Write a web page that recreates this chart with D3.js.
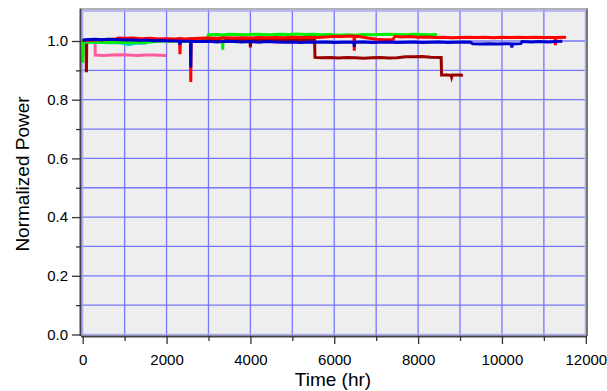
<!DOCTYPE html>
<html>
<head>
<meta charset="utf-8">
<script src="https://cdn.jsdelivr.net/npm/d3@7"></script>
<style>
  html, body { margin: 0; padding: 0; background: #fff; }
  svg { display: block; font-family: "Liberation Sans", Arial, sans-serif; }
</style>
</head>
<body>
<svg id="chart" width="607" height="391"></svg>
<script>
// Tick labels
const xTickLabels = [0, 2000, 4000, 6000, 8000, 10000, 12000];
const xMinorTicks = [1000, 3000, 5000, 7000, 9000, 11000];
const yTickLabels = [0, 0.2, 0.4, 0.6, 0.8, 1.0];
const yMinorTicks = [0.1, 0.3, 0.5, 0.7, 0.9];

// Normalized power vs. time (hr) for each module
const darkred = [[0,1.000],[80,1.001],[86,0.899],[90,0.899],[96,1.002],[300,1.003],[600,1.004],[900,1.003],[1200,1.004],[1500,1.003],[1800,1.005],[2100,1.004],[2400,1.005],[2700,1.004],[3000,1.005],[3300,1.004],[3600,1.005],[3990,1.004],[4000,0.978],[4012,1.004],[4300,1.005],[4600,1.004],[4900,1.005],[5200,1.004],[5530,1.005],[5540,0.944],[5700,0.943],[5900,0.944],[6100,0.942],[6300,0.944],[6500,0.943],[6700,0.941],[6900,0.943],[7100,0.944],[7300,0.942],[7500,0.943],[7700,0.946],[7900,0.946],[8100,0.947],[8300,0.945],[8550,0.944],[8560,0.884],[8700,0.884],[8790,0.883],[8800,0.877],[8815,0.884],[8950,0.884],[9070,0.883]];
const pink = [[0,1.000],[250,1.001],[295,1.000],[300,0.952],[500,0.951],[700,0.952],[900,0.953],[1100,0.952],[1300,0.951],[1500,0.952],[1700,0.952],[1990,0.951]];
const cyan = [[0,0.997],[150,0.996],[300,0.995],[450,0.996],[600,0.994],[750,0.995],[900,0.993],[1000,0.991],[1080,0.987],[1150,0.989],[1250,0.992],[1400,0.993],[1520,0.992]];
const magenta = [[1100,1.003],[1300,1.004],[1500,1.003],[1700,1.004],[2000,1.003]];
const green = [[0,0.926],[12,0.998],[200,0.997],[500,0.996],[800,0.997],[1100,0.995],[1400,0.996],[1560,0.996],[1800,0.999],[2200,1.000],[2600,1.001],[2950,1.002],[3000,1.021],[3200,1.022],[3330,1.021],[3340,0.970],[3352,1.021],[3500,1.023],[3700,1.022],[3900,1.021],[4100,1.023],[4300,1.022],[4500,1.021],[4700,1.023],[4900,1.022],[5100,1.024],[5300,1.022],[5500,1.023],[5700,1.021],[5900,1.022],[6100,1.020],[6300,1.021],[6500,1.020],[6700,1.022],[6900,1.021],[7100,1.022],[7300,1.023],[7500,1.022],[7700,1.021],[7900,1.023],[8100,1.022],[8300,1.021],[8450,1.022]];
const red = [[0,1.002],[300,1.003],[600,1.005],[800,1.007],[850,1.010],[1000,1.009],[1200,1.010],[1400,1.008],[1600,1.009],[1800,1.007],[2000,1.008],[2200,1.007],[2310,1.008],[2320,0.955],[2330,1.008],[2450,1.007],[2570,1.008],[2578,0.860],[2586,1.008],[2800,1.009],[3000,1.010],[3200,1.009],[3400,1.011],[3600,1.010],[3800,1.011],[4000,1.010],[4200,1.012],[4400,1.011],[4600,1.012],[4800,1.011],[5000,1.013],[5200,1.012],[5400,1.013],[5600,1.012],[5800,1.014],[6000,1.016],[6200,1.015],[6400,1.017],[6470,1.016],[6478,0.967],[6488,1.016],[6600,1.015],[6800,1.010],[7000,1.006],[7200,1.004],[7400,1.005],[7450,1.016],[7600,1.014],[7800,1.015],[8000,1.013],[8200,1.014],[8400,1.012],[8600,1.013],[8800,1.011],[9000,1.012],[9200,1.013],[9400,1.012],[9600,1.013],[9800,1.011],[10000,1.013],[10200,1.012],[10400,1.013],[10600,1.012],[10800,1.013],[11000,1.012],[11265,1.012],[11275,0.986],[11285,1.012],[11530,1.013]];
const blue = [[0,1.000],[40,1.004],[150,1.005],[300,1.006],[450,1.004],[600,1.006],[750,1.005],[900,1.004],[1050,1.003],[1200,1.004],[1350,1.002],[1500,1.003],[1700,1.001],[1900,1.002],[2100,1.000],[2310,1.000],[2318,0.987],[2326,1.000],[2450,0.999],[2570,0.999],[2578,0.910],[2586,0.999],[2800,0.998],[3000,0.999],[3200,0.997],[3400,0.999],[3600,0.998],[3800,0.997],[4000,0.998],[4200,0.996],[4400,0.998],[4600,0.997],[4800,0.996],[5000,0.997],[5200,0.995],[5400,0.997],[5600,0.996],[5800,0.997],[6000,0.995],[6200,0.996],[6470,0.996],[6478,0.980],[6488,0.996],[6700,0.997],[6900,0.995],[7100,0.996],[7300,0.997],[7500,0.995],[7700,0.996],[7900,0.997],[8100,0.995],[8300,0.996],[8500,0.997],[8700,0.995],[8900,0.996],[9100,0.997],[9250,0.996],[9300,0.991],[9500,0.990],[9700,0.991],[9900,0.990],[10100,0.991],[10225,0.990],[10235,0.978],[10248,0.990],[10450,0.991],[10480,0.998],[10700,0.997],[10900,0.998],[11100,0.997],[11300,0.998],[11440,0.999]];

const seriesList = [
  { data: darkred, color: "#990000" },
  { data: pink,    color: "#ff5c9d" },
  { data: cyan,    color: "#1cc7c7" },
  { data: magenta, color: "#c000c0" },
  { data: green,   color: "#00f000" },
  { data: red,     color: "#ff0000" },
  { data: blue,    color: "#0000cc" }
];

const svg = d3.select("#chart");

const plot = { left: 81, right: 587, top: 9.5, bottom: 336 };
const x = d3.scaleLinear().domain([0, 12000]).range([82.7, 585.8]);
const y = d3.scaleLinear().domain([0, 1]).range([334.5, 41]);

// Plot background
svg.append("rect")
  .attr("x", plot.left).attr("y", plot.top)
  .attr("width", plot.right - plot.left).attr("height", plot.bottom - plot.top)
  .attr("fill", "#eeeeee");

// Grid
const grid = svg.append("g").attr("stroke", "#7676ff").attr("stroke-width", 1.3);
d3.range(1000, 12000, 1000).forEach(v => {
  grid.append("line").attr("x1", x(v)).attr("x2", x(v))
    .attr("y1", plot.top).attr("y2", plot.bottom);
});
d3.range(1, 11).map(i => i / 10).forEach(v => {
  grid.append("line").attr("y1", y(v)).attr("y2", y(v))
    .attr("x1", plot.left).attr("x2", plot.right);
});

// Inner frame of the plot area
svg.append("rect")
  .attr("x", plot.left + 1.5).attr("y", plot.top + 1.5)
  .attr("width", plot.right - plot.left - 3).attr("height", plot.bottom - plot.top - 3)
  .attr("fill", "none").attr("stroke", "#a8a8ff").attr("stroke-width", 1.5);

// Data lines
const line = d3.line().x(d => x(d[0])).y(d => y(d[1]));
const linesG = svg.append("g");
seriesList.forEach(s => {
  linesG.append("path")
    .datum(s.data)
    .attr("d", line)
    .attr("fill", "none")
    .attr("stroke", s.color)
    .attr("stroke-width", 3)
    .attr("stroke-linejoin", "miter");
});

// Outer frame: top and right gray edges
svg.append("line").attr("x1", plot.left).attr("x2", plot.right + 0.5)
  .attr("y1", plot.top - 0.5).attr("y2", plot.top - 0.5)
  .attr("stroke", "#999").attr("stroke-width", 1.5);
svg.append("line").attr("x1", plot.right).attr("x2", plot.right)
  .attr("y1", plot.top - 1).attr("y2", plot.bottom)
  .attr("stroke", "#777").attr("stroke-width", 2);

// Axes
const fontSize = "15px";
const xAxisG = svg.append("g")
  .attr("transform", `translate(0,${plot.bottom})`)
  .call(d3.axisBottom(x).tickValues(xTickLabels).tickFormat(d3.format("d"))
    .tickSize(8).tickPadding(10).tickSizeOuter(0));
svg.append("g")
  .attr("transform", `translate(0,${plot.bottom})`)
  .call(d3.axisBottom(x).tickValues(xMinorTicks).tickFormat("").tickSize(5).tickSizeOuter(0))
  .call(g => g.select(".domain").remove());

const yAxisG = svg.append("g")
  .attr("transform", `translate(${plot.left},0)`)
  .call(d3.axisLeft(y).tickValues(yTickLabels).tickFormat(d3.format(".1f"))
    .tickSize(9).tickPadding(4).tickSizeOuter(0));
svg.append("g")
  .attr("transform", `translate(${plot.left},0)`)
  .call(d3.axisLeft(y).tickValues(yMinorTicks).tickFormat("").tickSize(5).tickSizeOuter(0))
  .call(g => g.select(".domain").remove());

[xAxisG, yAxisG].forEach(g => {
  g.selectAll("text").attr("font-size", fontSize).attr("fill", "#000")
    .attr("font-family", '"Liberation Sans", Arial, sans-serif');
  g.selectAll("line").attr("stroke", "#333");
});
xAxisG.select(".domain").attr("d", `M${plot.left},0.5H${plot.right}`).attr("stroke", "#444").attr("stroke-width", 2);
yAxisG.select(".domain").attr("d", `M-0.5,${plot.top - 1}V${plot.bottom}`).attr("stroke", "#444").attr("stroke-width", 2);
svg.selectAll(".tick line").attr("stroke", "#333").attr("stroke-width", 1.3);

// Axis titles
svg.append("text")
  .attr("x", 333).attr("y", 386)
  .attr("text-anchor", "middle")
  .attr("font-size", "19px")
  .text("Time (hr)");
svg.append("text")
  .attr("transform", "translate(29,174) rotate(-90)")
  .attr("text-anchor", "middle")
  .attr("font-size", "19px")
  .text("Normalized Power");
</script>
</body>
</html>
